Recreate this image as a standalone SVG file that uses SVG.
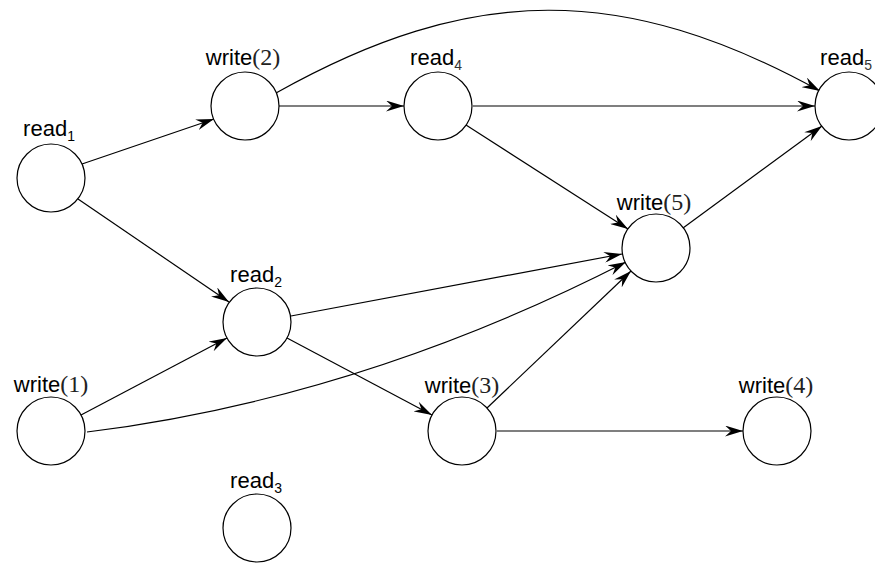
<svg xmlns="http://www.w3.org/2000/svg" width="875" height="563" viewBox="0 0 875 563">
<style>
.n{fill:#fff;stroke:#000;stroke-width:1.2}
.e{fill:none;stroke:#000;stroke-width:1.2}
.l{font-family:"Liberation Sans",Arial,sans-serif;font-size:22px;fill:#000;text-anchor:middle}
.p{font-family:"Liberation Serif","Times New Roman",serif;font-size:24px;fill:#222}
.s{font-size:14px}
</style>
<defs>
<marker id="ah" viewBox="0 0 18 11" refX="18" refY="5.5" markerWidth="18" markerHeight="11" orient="auto" markerUnits="userSpaceOnUse">
<path d="M0,0 L18,5.5 L0,11 L6,5.5 z" fill="#000"/>
</marker>
</defs>
<rect width="875" height="563" fill="#fff"/>
<g id="connectors">
<line class="e" x1="82" y1="164" x2="214" y2="119" marker-end="url(#ah)"/>
<line class="e" x1="78" y1="199" x2="229" y2="302" marker-end="url(#ah)"/>
<line class="e" x1="279" y1="106" x2="404" y2="106" marker-end="url(#ah)"/>
<path class="e" d="M276 93 C472 -17 624 -17 820 91" marker-end="url(#ah)"/>
<line class="e" x1="473" y1="106" x2="815" y2="106" marker-end="url(#ah)"/>
<line class="e" x1="466" y1="125" x2="628" y2="229" marker-end="url(#ah)"/>
<line class="e" x1="291" y1="316" x2="622" y2="254" marker-end="url(#ah)"/>
<line class="e" x1="287" y1="338" x2="432" y2="415" marker-end="url(#ah)"/>
<line class="e" x1="81" y1="415" x2="227" y2="338" marker-end="url(#ah)"/>
<path class="e" d="M87 432 Q360 398 626 262" marker-end="url(#ah)"/>
<line class="e" x1="487" y1="408" x2="631" y2="271" marker-end="url(#ah)"/>
<line class="e" x1="497" y1="431" x2="743" y2="431" marker-end="url(#ah)"/>
<line class="e" x1="683" y1="228" x2="822" y2="126" marker-end="url(#ah)"/>
</g>
<g id="read1"><circle class="n" cx="51" cy="178" r="34"/><text class="l" x="49" y="136">read<tspan class="s" dy="5">1</tspan></text></g>
<g id="write2"><circle class="n" cx="245" cy="106" r="34"/><text class="l" x="243" y="65">write<tspan class="p">(2)</tspan></text></g>
<g id="read4"><circle class="n" cx="438" cy="106" r="34"/><text class="l" x="436" y="65">read<tspan class="s" dy="5" fill="#333">4</tspan></text></g>
<g id="read5"><circle class="n" cx="849" cy="106" r="34"/><text class="l" x="846" y="65">read<tspan class="s" dy="5" fill="#333">5</tspan></text></g>
<g id="write5"><circle class="n" cx="656" cy="248" r="34"/><text class="l" x="654" y="210">write<tspan class="p">(5)</tspan></text></g>
<g id="read2"><circle class="n" cx="257" cy="322" r="34"/><text class="l" x="256" y="282">read<tspan class="s" dy="5">2</tspan></text></g>
<g id="write1"><circle class="n" cx="51" cy="431" r="34"/><text class="l" x="51" y="392">write<tspan class="p">(1)</tspan></text></g>
<g id="write3"><circle class="n" cx="462" cy="431" r="34"/><text class="l" x="462" y="393">write<tspan class="p">(3)</tspan></text></g>
<g id="write4"><circle class="n" cx="777" cy="431" r="34"/><text class="l" x="776" y="393">write<tspan class="p">(4)</tspan></text></g>
<g id="read3"><circle class="n" cx="257" cy="528" r="34"/><text class="l" x="256" y="488">read<tspan class="s" dy="5">3</tspan></text></g>
</svg>
